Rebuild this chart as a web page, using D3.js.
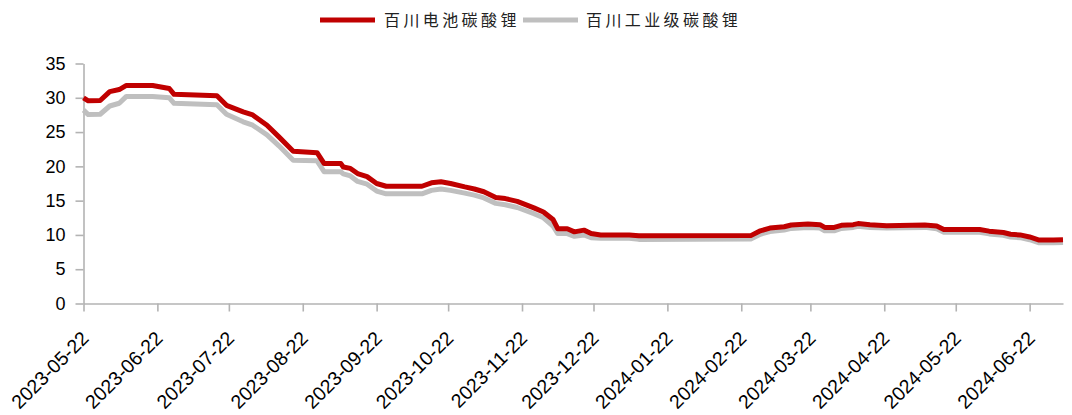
<!DOCTYPE html>
<html>
<head>
<meta charset="utf-8">
<script src="https://cdn.jsdelivr.net/npm/d3@7"></script>
<style>
  body { margin: 0; background: #fff; }
  svg { display: block; }
</style>
</head>
<body>
<div id="chart-area"></div>
<script>
// series names (legend)
var seriesNames = ["百川电池碳酸锂", "百川工业级碳酸锂"];

// dates (daily data, kept at its change points)
var dates = [
  "2023-05-22","2023-05-24","2023-05-29","2023-06-02","2023-06-06","2023-06-09",
  "2023-06-20","2023-06-27","2023-06-29","2023-07-17","2023-07-21","2023-07-28",
  "2023-08-01","2023-08-07","2023-08-12","2023-08-18","2023-08-28","2023-08-31",
  "2023-09-07","2023-09-08","2023-09-11","2023-09-14","2023-09-18","2023-09-22",
  "2023-09-26","2023-10-11","2023-10-15","2023-10-19","2023-10-23","2023-10-29",
  "2023-11-02","2023-11-06","2023-11-11","2023-11-15","2023-11-20","2023-11-27",
  "2023-12-01","2023-12-05","2023-12-07","2023-12-11","2023-12-14","2023-12-18",
  "2023-12-21","2023-12-25","2024-01-06","2024-01-10","2024-02-26","2024-03-01",
  "2024-03-05","2024-03-11","2024-03-14","2024-03-21","2024-03-26","2024-03-28",
  "2024-04-01","2024-04-04","2024-04-09","2024-04-11","2024-04-16","2024-04-23",
  "2024-05-09","2024-05-14","2024-05-17","2024-06-01","2024-06-05","2024-06-11",
  "2024-06-14","2024-06-18","2024-06-22","2024-06-26","2024-07-02","2024-07-06"
];

// 百川电池碳酸锂 (万元/吨)
var batteryGrade = [
  30.0, 29.55, 29.6, 30.9, 31.2, 31.8,
  31.8, 31.35, 30.5, 30.3, 28.9, 27.95,
  27.5, 26.0, 24.3, 22.2, 22.0, 20.4,
  20.4, 19.9, 19.7, 18.95, 18.5, 17.5,
  17.1, 17.1, 17.6, 17.75, 17.5, 17.0,
  16.7, 16.3, 15.45, 15.3, 14.9, 13.95,
  13.35, 12.25, 10.9, 10.9, 10.45, 10.7,
  10.2, 10.0, 10.0, 9.87, 9.9, 10.6,
  11.0, 11.2, 11.45, 11.6, 11.5, 11.1,
  11.1, 11.4, 11.5, 11.65, 11.5, 11.35,
  11.45, 11.3, 10.8, 10.8, 10.55, 10.35,
  10.1, 10.0, 9.7, 9.25, 9.25, 9.3
];

// 百川工业级碳酸锂 (万元/吨)
var industrialGrade = [
  28.2, 27.55, 27.6, 28.8, 29.2, 30.2,
  30.2, 30.0, 29.2, 29.0, 27.6, 26.5,
  26.0, 24.6, 23.0, 20.9, 20.8, 19.2,
  19.2, 18.9, 18.6, 17.8, 17.4, 16.4,
  16.0, 16.0, 16.5, 16.7, 16.5, 16.1,
  15.8, 15.4, 14.6, 14.4, 14.0, 13.1,
  12.5, 11.3, 10.2, 10.2, 9.8, 10.0,
  9.6, 9.5, 9.5, 9.35, 9.4, 10.1,
  10.5, 10.7, 10.95, 11.1, 11.0, 10.6,
  10.6, 10.95, 11.1, 11.25, 11.1, 11.0,
  11.1, 10.9, 10.4, 10.4, 10.15, 9.95,
  9.7, 9.6, 9.3, 8.85, 8.85, 8.9
];

var yTicks = [0, 5, 10, 15, 20, 25, 30, 35];
var xTickLabels = [
  "2023-05-22","2023-06-22","2023-07-22","2023-08-22","2023-09-22","2023-10-22",
  "2023-11-22","2023-12-22","2024-01-22","2024-02-22","2024-03-22","2024-04-22",
  "2024-05-22","2024-06-22"
];

var W = 1072, H = 415;
var plotLeft = 83.5, plotRight = 1063, plotTop = 63.5, plotBottom = 303.5;

var parse = d3.timeParse("%Y-%m-%d");
var fmt = d3.timeFormat("%Y-%m-%d");

var rows = dates.map(function(d, i) {
  return { date: parse(d), battery: batteryGrade[i], industrial: industrialGrade[i] };
});

var svg = d3.select("#chart-area")
  .append("svg")
  .attr("width", W)
  .attr("height", H);

var x = d3.scaleTime()
  .domain([parse("2023-05-22"), parse("2024-07-06")])
  .range([plotLeft, plotRight]);

var y = d3.scaleLinear()
  .domain([0, 35])
  .range([plotBottom, plotTop]);

// y axis
var yAxis = svg.append("g")
  .attr("transform", "translate(" + plotLeft + ",0)")
  .call(d3.axisLeft(y).tickValues(yTicks).tickSize(8).tickSizeOuter(0).tickPadding(10));

// x axis
var xAxis = svg.append("g")
  .attr("transform", "translate(0," + plotBottom + ")")
  .call(d3.axisBottom(x)
    .tickValues(xTickLabels.map(parse))
    .tickFormat(fmt)
    .tickSize(8)
    .tickSizeOuter(0));

[xAxis, yAxis].forEach(function(g) {
  g.selectAll("path, line").attr("stroke", "#b3b3b3").attr("stroke-width", 1.6);
  g.selectAll("text")
    .attr("fill", "#000")
    .style("font-family", "'Liberation Sans', Arial, sans-serif")
    .style("font-size", "18px");
});

xAxis.selectAll("text")
  .attr("text-anchor", "end")
  .attr("x", null)
  .attr("y", null)
  .attr("dy", null)
  .style("font-size", "19.5px")
  .attr("transform", "translate(6,36) rotate(-45)");

// lines
var lineIndustrial = d3.line()
  .x(function(d) { return x(d.date); })
  .y(function(d) { return y(d.industrial); });

var lineBattery = d3.line()
  .x(function(d) { return x(d.date); })
  .y(function(d) { return y(d.battery); });

svg.append("path")
  .datum(rows)
  .attr("fill", "none")
  .attr("stroke", "#bfbfbf")
  .attr("stroke-width", 5)
  .attr("stroke-linejoin", "round")
  .attr("d", lineIndustrial);

svg.append("path")
  .datum(rows)
  .attr("fill", "none")
  .attr("stroke", "#c00000")
  .attr("stroke-width", 5)
  .attr("stroke-linejoin", "round")
  .attr("d", lineBattery);

// legend
var legend = [
  { name: seriesNames[0], color: "#c00000", x0: 320, tx: 384 },
  { name: seriesNames[1], color: "#bfbfbf", x0: 523, tx: 586 }
];

var lg = svg.append("g");
legend.forEach(function(l) {
  lg.append("line")
    .attr("x1", l.x0).attr("x2", l.x0 + 55)
    .attr("y1", 20).attr("y2", 20)
    .attr("stroke", l.color)
    .attr("stroke-width", 5);
  lg.append("text")
    .attr("x", l.tx)
    .attr("y", 26)
    .attr("fill", "#222")
    .style("font-family", "'Noto Sans CJK SC', sans-serif")
    .style("font-size", "16px")
    .style("letter-spacing", "3.4px")
    .text(l.name);
});
</script>
</body>
</html>
